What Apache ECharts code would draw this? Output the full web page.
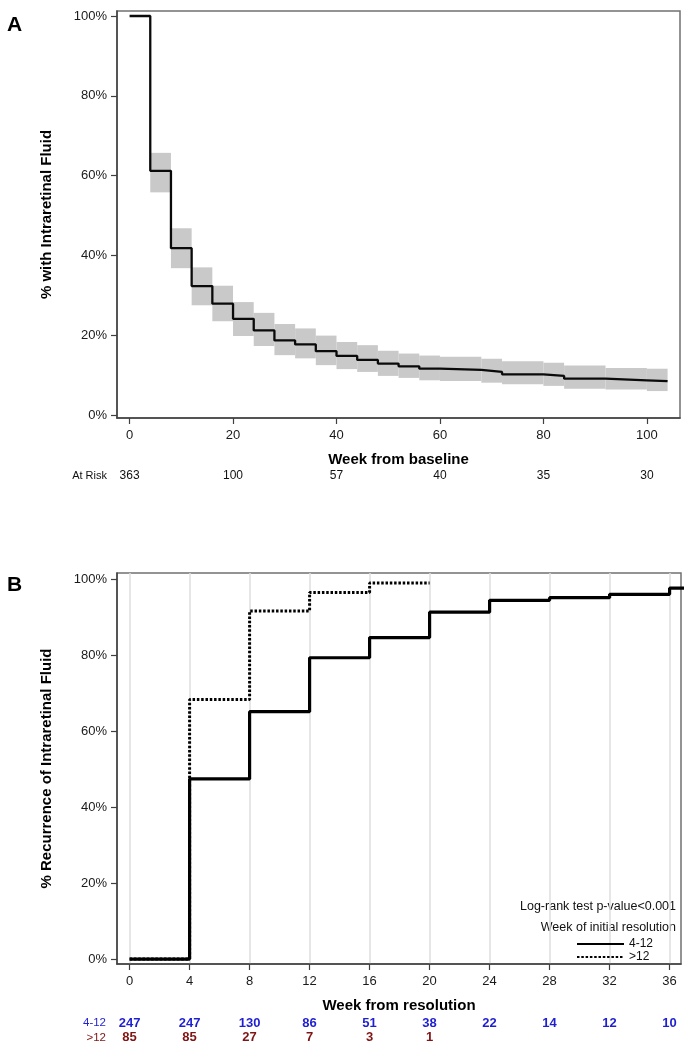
<!DOCTYPE html>
<html>
<head>
    <meta charset="utf-8">
    <title>Intraretinal fluid</title>
    <script src="https://cdn.jsdelivr.net/npm/echarts@6/dist/echarts.min.js"></script>
    <style>
        html, body { margin: 0; padding: 0; background: #fff; }
        #main { width: 692px; height: 1050px; }
    </style>
</head>
<body>
<div id="main"></div>
<script type="text/javascript">
    // panel A: % with intraretinal fluid
    var weeksA = [0, 4, 8, 12, 16, 20, 24, 28, 32, 36, 40, 44, 48, 52, 56, 60, 68, 72, 80, 84, 92, 100, 104];
    var pctA = [100, 61.2, 41.8, 32.3, 27.9, 24.1, 21.2, 18.7, 17.7, 16.0, 14.8, 13.8, 12.9, 12.2, 11.6, 11.3, 10.8, 10.2, 9.8, 9.1, 8.7, 8.5, 8.5];
    // confidence band, one value per interval weeksA[i]..weeksA[i+1] (none for 0-4)
    var ciLowA = [null, 55.8, 36.8, 27.5, 23.5, 19.8, 17.3, 15.0, 14.2, 12.5, 11.5, 10.8, 9.8, 9.3, 8.7, 8.5, 8.1, 7.7, 7.3, 6.6, 6.4, 6.0];
    var ciHighA = [null, 65.7, 46.8, 37.0, 32.4, 28.3, 25.6, 22.8, 21.7, 19.9, 18.3, 17.5, 16.1, 15.4, 14.9, 14.6, 14.1, 13.5, 13.1, 12.4, 11.8, 11.6];
    var ticksXA = [0, 20, 40, 60, 80, 100];
    var ticksY = [0, 20, 40, 60, 80, 100];
    var riskWeeksA = [0, 20, 40, 60, 80, 100];
    var riskA = [363, 100, 57, 40, 35, 30];

    // panel B: % recurrence by week of initial resolution
    var weeksB1 = [0, 4, 8, 12, 16, 20, 24, 28, 32, 36, 37];
    var pctB1 = [0, 47.4, 65.1, 79.3, 84.6, 91.3, 94.4, 95.1, 96.0, 97.6, 97.6];
    var weeksB2 = [0, 4, 8, 12, 16, 20];
    var pctB2 = [0, 68.3, 91.6, 96.5, 99.0, 99.0];
    var ticksXB = [0, 4, 8, 12, 16, 20, 24, 28, 32, 36];
    var riskWeeksB1 = [0, 4, 8, 12, 16, 20, 24, 28, 32, 36];
    var riskB1 = [247, 247, 130, 86, 51, 38, 22, 14, 12, 10];
    var riskWeeksB2 = [0, 4, 8, 12, 16, 20];
    var riskB2 = [85, 85, 27, 7, 3, 1];

    var FONT = "'Liberation Sans', Arial, sans-serif";
    var BLUE = '#1f1fd2';
    var RED = '#7f1414';

    function zip(xs, ys) {
        var out = [];
        for (var i = 0; i < xs.length; i++) out.push([xs[i], ys[i]]);
        return out;
    }

    var bandData = [];
    for (var i = 0; i < ciLowA.length; i++) {
        if (ciLowA[i] == null) continue;
        bandData.push([weeksA[i], weeksA[i + 1], ciLowA[i], ciHighA[i]]);
    }

    function riskData(weeks, counts, row) {
        var out = [];
        for (var i = 0; i < weeks.length; i++) out.push([weeks[i], row, counts[i]]);
        return out;
    }

    function riskRenderer(color, font) {
        return function (params, api) {
            var p = api.coord([api.value(0), api.value(1)]);
            return {
                type: 'text',
                x: p[0], y: p[1],
                style: {
                    text: String(api.value(2)),
                    textAlign: 'center',
                    textVerticalAlign: 'middle',
                    font: font,
                    fill: color
                }
            };
        };
    }

    function mainX(grid, min, max, ticks, name, gap, splitLine) {
        return {
            type: 'value', gridIndex: grid, min: min, max: max,
            name: name, nameLocation: 'middle', nameGap: gap,
            nameTextStyle: {fontFamily: FONT, fontWeight: 'bold', fontSize: 15, color: '#000'},
            axisLine: {show: true, onZero: false, lineStyle: {color: '#404040', width: 1.5}},
            axisTick: {show: true, customValues: ticks, length: 6, lineStyle: {color: '#404040', width: 1.2}},
            axisLabel: {customValues: ticks, fontFamily: FONT, fontSize: 13, color: '#1a1a1a', margin: 11},
            splitLine: {show: splitLine, lineStyle: {color: '#dedede', width: 1.5}}
        };
    }

    function mainY(grid, min, max, name) {
        return {
            type: 'value', gridIndex: grid, min: min, max: max,
            name: name, nameLocation: 'middle', nameGap: 63,
            nameTextStyle: {fontFamily: FONT, fontWeight: 'bold', fontSize: 15, color: '#000'},
            axisLine: {show: true, onZero: false, lineStyle: {color: '#404040', width: 1.5}},
            axisTick: {show: true, customValues: ticksY, length: 6, lineStyle: {color: '#404040', width: 1.2}},
            axisLabel: {customValues: ticksY, fontFamily: FONT, fontSize: 13, color: '#1a1a1a', margin: 10,
                formatter: function (v) { return v + '%'; }},
            splitLine: {show: false}
        };
    }

    var chart = echarts.init(document.getElementById('main'));
    var option = {
        animation: false,
        backgroundColor: '#fff',
        grid: [
            {left: 117, top: 11, width: 563, height: 407, show: true, borderColor: '#707070', borderWidth: 1.5},
            {left: 117, top: 573, width: 564, height: 391, show: true, borderColor: '#707070', borderWidth: 1.5},
            {left: 117, top: 466, width: 563, height: 20},
            {left: 117, top: 1015, width: 564, height: 30}
        ],
        xAxis: [
            mainX(0, -2.43, 106.4, ticksXA, 'Week from baseline', 34, false),
            mainX(1, -0.84, 36.76, ticksXB, 'Week from resolution', 34, true),
            {type: 'value', gridIndex: 2, min: -2.43, max: 106.4, show: false},
            {type: 'value', gridIndex: 3, min: -0.84, max: 36.76, show: false}
        ],
        yAxis: [
            mainY(0, -0.75, 101.25, '% with Intraretinal Fluid'),
            mainY(1, -1.3, 101.6, '% Recurrence of Intraretinal Fluid'),
            {type: 'value', gridIndex: 2, min: 0, max: 1, show: false},
            {type: 'value', gridIndex: 3, min: 0, max: 2, show: false}
        ],
        legend: {
            data: ['4-12', '>12'],
            orient: 'vertical',
            left: 571, top: 933,
            itemWidth: 47, itemHeight: 13, itemGap: 1,
            selectedMode: false,
            itemStyle: {opacity: 0},
            textStyle: {fontFamily: FONT, fontSize: 12, color: '#111'}
        },
        graphic: [
            {type: 'text', x: 7, y: 25, style: {text: 'A', font: 'bold 21px ' + FONT, fill: '#000', textVerticalAlign: 'middle'}},
            {type: 'text', x: 7, y: 585, style: {text: 'B', font: 'bold 21px ' + FONT, fill: '#000', textVerticalAlign: 'middle'}},
            {type: 'text', x: 107, y: 476, style: {text: 'At Risk', font: '11px ' + FONT, fill: '#111', textAlign: 'right', textVerticalAlign: 'middle'}},
            {type: 'text', x: 106, y: 1023, style: {text: '4-12', font: '11.5px ' + FONT, fill: BLUE, textAlign: 'right', textVerticalAlign: 'middle'}},
            {type: 'text', x: 106, y: 1037.5, style: {text: '>12', font: '11.5px ' + FONT, fill: RED, textAlign: 'right', textVerticalAlign: 'middle'}},
            {type: 'text', x: 676, y: 906.5, style: {text: 'Log-rank test p-value<0.001', font: '12.5px ' + FONT, fill: '#111', textAlign: 'right', textVerticalAlign: 'middle'}},
            {type: 'text', x: 676, y: 927.5, style: {text: 'Week of initial resolution', font: '12.5px ' + FONT, fill: '#111', textAlign: 'right', textVerticalAlign: 'middle'}}
        ],
        series: [
            {
                name: 'ci', type: 'custom', xAxisIndex: 0, yAxisIndex: 0, silent: true, z: 1,
                encode: {x: [0, 1], y: [2, 3]},
                data: bandData,
                renderItem: function (params, api) {
                    var p0 = api.coord([api.value(0), api.value(3)]);
                    var p1 = api.coord([api.value(1), api.value(2)]);
                    return {
                        type: 'rect',
                        shape: {x: p0[0], y: p0[1], width: p1[0] - p0[0], height: p1[1] - p0[1]},
                        style: {fill: '#c9c9c9'}
                    };
                }
            },
            {
                name: 'overall', type: 'line', xAxisIndex: 0, yAxisIndex: 0, step: 'end', symbol: 'none', z: 3,
                lineStyle: {color: '#0a0a0a', width: 2.3},
                data: zip(weeksA, pctA)
            },
            {
                name: '>12', type: 'line', xAxisIndex: 1, yAxisIndex: 1, step: 'end', symbol: 'none', z: 3,
                color: '#000',
                lineStyle: {color: '#000', width: 3, type: [2.5, 1.8]},
                data: zip(weeksB2, pctB2)
            },
            {
                name: '4-12', type: 'line', xAxisIndex: 1, yAxisIndex: 1, step: 'end', symbol: 'none', z: 10,
                color: '#000',
                lineStyle: {color: '#000', width: 3.2},
                data: zip(weeksB1, pctB1)
            },
            {
                name: 'riskA', type: 'custom', xAxisIndex: 2, yAxisIndex: 2, silent: true,
                data: riskData(riskWeeksA, riskA, 0.5),
                renderItem: riskRenderer('#111', '12px ' + FONT)
            },
            {
                name: 'riskB1', type: 'custom', xAxisIndex: 3, yAxisIndex: 3, silent: true,
                data: riskData(riskWeeksB1, riskB1, 1.47),
                renderItem: riskRenderer(BLUE, 'bold 13px ' + FONT)
            },
            {
                name: 'riskB2', type: 'custom', xAxisIndex: 3, yAxisIndex: 3, silent: true,
                data: riskData(riskWeeksB2, riskB2, 0.5),
                renderItem: riskRenderer(RED, 'bold 13px ' + FONT)
            }
        ]
    };
    chart.setOption(option);
</script>
</body>
</html>
